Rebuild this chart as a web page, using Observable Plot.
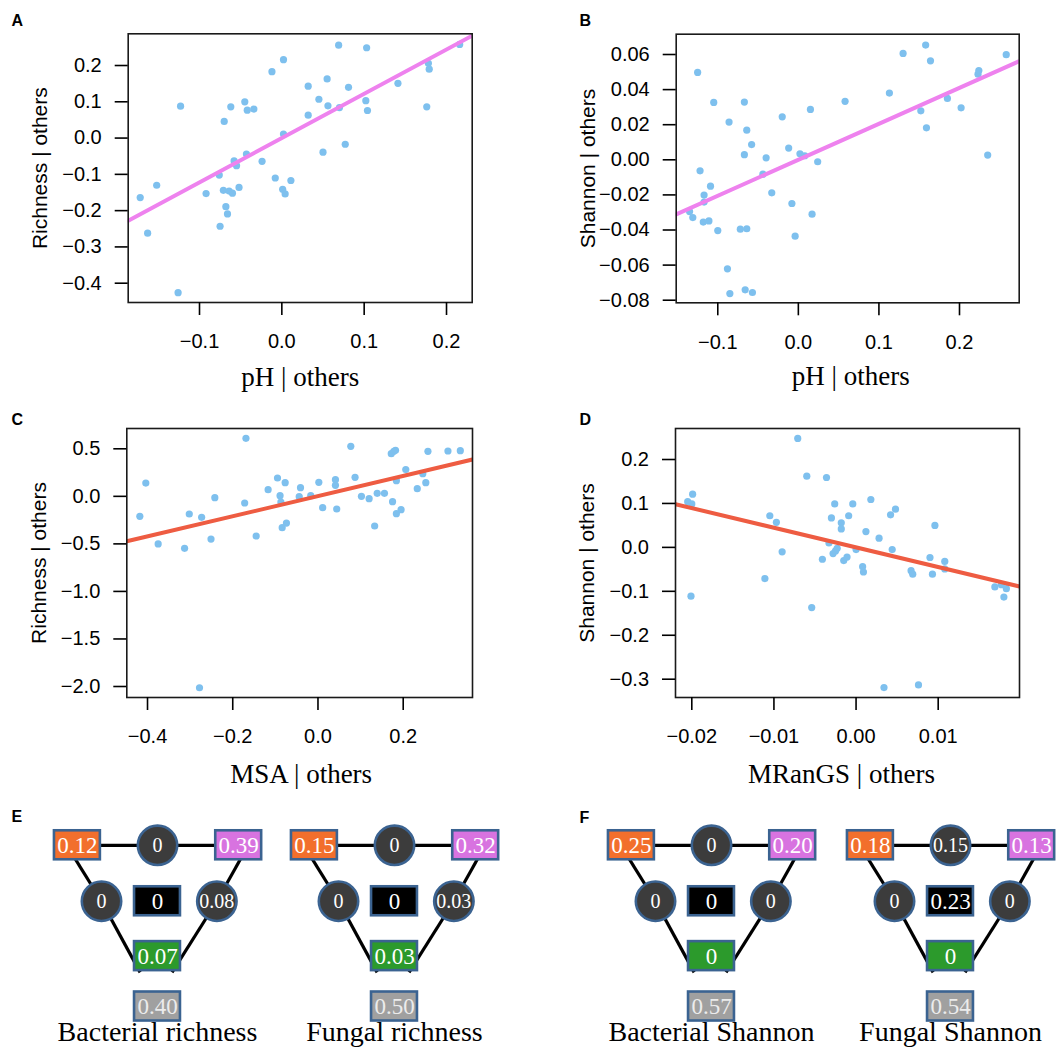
<!DOCTYPE html>
<html><head><meta charset="utf-8">
<script src="https://cdn.jsdelivr.net/npm/d3@7"></script>
<script src="https://cdn.jsdelivr.net/npm/@observablehq/plot@0.6"></script>
<style>
html,body{margin:0;padding:0;background:#fff;}
#root{position:relative;width:1056px;height:1048px;overflow:hidden;background:#fff;}
.panel{position:absolute;}
.panel svg{max-width:none !important;}
.letter{position:absolute;font:bold 16px 'Liberation Sans',Arial,sans-serif;line-height:16px;color:#000;}
</style></head><body><div id="root"></div>
<script>
// ---------- Panel A: Richness | others vs pH | others ----------
const aX = [-0.172,-0.163,-0.152,-0.126,-0.123,-0.092,-0.076,-0.075,-0.071,-0.070,-0.068,-0.066,-0.064,-0.062,-0.060,-0.058,-0.055,-0.052,-0.045,-0.043,-0.042,-0.034,-0.024,-0.012,-0.008,0.001,0.002,0.002,0.004,0.011,0.032,0.032,0.045,0.050,0.055,0.056,0.069,0.070,0.077,0.081,0.102,0.103,0.104,0.141,0.176,0.178,0.179,0.216];
const aY = [-0.164,-0.262,-0.130,-0.426,0.088,-0.153,-0.102,-0.243,-0.144,0.046,-0.189,-0.209,-0.146,0.086,-0.152,-0.063,-0.076,-0.136,0.100,-0.044,0.077,0.080,-0.064,0.183,-0.110,-0.141,0.011,0.216,-0.154,-0.117,0.063,0.143,0.107,-0.039,0.163,0.089,0.256,0.084,-0.017,0.140,0.103,0.249,0.076,0.151,0.086,0.206,0.190,0.258];
const aFit = {slope: 1.22, intercept: 0.0};
// ---------- Panel B: Shannon | others vs pH | others ----------
const bX = [-0.135,-0.131,-0.125,-0.122,-0.118,-0.117,-0.117,-0.111,-0.109,-0.105,-0.100,-0.088,-0.086,-0.085,-0.072,-0.067,-0.067,-0.066,-0.064,-0.064,-0.058,-0.057,-0.044,-0.040,-0.033,-0.020,-0.012,-0.008,-0.004,0.002,0.008,0.015,0.017,0.024,0.058,0.113,0.130,0.152,0.158,0.159,0.164,0.185,0.202,0.223,0.224,0.235,0.258];
const bY = [-0.0295,-0.0329,0.0498,-0.0063,-0.0355,-0.0201,-0.0241,-0.0348,-0.0150,0.0327,-0.0403,-0.0621,0.0215,-0.0762,-0.0395,0.0329,0.0029,-0.0741,0.0169,-0.0393,0.0087,-0.0756,-0.0082,0.0011,-0.0188,0.0245,0.0067,-0.0249,-0.0435,0.0034,0.0023,0.0287,-0.0310,-0.0011,0.0333,0.0380,0.0606,0.0279,0.0654,0.0182,0.0564,0.0350,0.0296,0.0488,0.0509,0.0027,0.0599];
const bFit = {slope: 0.205, intercept: 0.0};
// ---------- Panel C: Richness | others vs MSA | others ----------
const cX = [-0.418,-0.404,-0.375,-0.313,-0.302,-0.278,-0.273,-0.251,-0.242,-0.172,-0.169,-0.145,-0.117,-0.095,-0.089,-0.087,-0.084,-0.077,-0.074,-0.044,-0.041,-0.017,0.002,0.011,0.041,0.041,0.044,0.077,0.087,0.102,0.120,0.133,0.139,0.156,0.172,0.175,0.178,0.182,0.184,0.184,0.195,0.206,0.233,0.246,0.253,0.258,0.305,0.334];
const cY = [-0.210,0.140,-0.501,-0.547,-0.186,-2.013,-0.221,-0.449,-0.014,-0.070,0.610,-0.417,0.070,0.193,0.007,-0.060,-0.330,0.144,-0.281,-0.004,0.091,0.007,0.147,-0.119,0.175,0.116,-0.133,0.526,0.200,0.000,-0.025,-0.312,0.032,0.032,0.449,-0.056,0.473,0.484,0.165,-0.182,-0.140,0.281,0.081,0.238,0.144,0.473,0.477,0.480];
const cFit = {slope: 1.06, intercept: 0.003};
// ---------- Panel D: Shannon | others vs MRanGS | others ----------
const dX = [-0.0205,-0.0201,-0.0200,-0.0199,-0.0111,-0.0105,-0.0097,-0.0090,-0.0071,-0.0060,-0.0054,-0.0041,-0.0036,-0.0033,-0.0030,-0.0028,-0.0026,-0.0025,-0.0023,-0.0018,-0.0018,-0.0015,-0.0011,-0.0009,-0.0004,0.0000,0.0008,0.0009,0.0012,0.0018,0.0028,0.0034,0.0042,0.0044,0.0048,0.0067,0.0069,0.0076,0.0090,0.0093,0.0096,0.0108,0.0108,0.0169,0.0177,0.0180,0.0183];
const dY = [0.104,-0.111,0.099,0.121,-0.071,0.072,0.057,-0.010,0.248,0.162,-0.137,-0.027,0.159,0.010,0.067,-0.014,0.099,-0.008,-0.002,0.056,0.042,-0.030,-0.022,0.072,0.099,-0.005,-0.044,-0.056,0.036,0.109,0.021,-0.319,0.074,-0.005,0.087,-0.053,-0.061,-0.313,-0.023,-0.061,0.050,-0.032,-0.049,-0.090,-0.085,-0.113,-0.094];
const dFit = {slope: -4.47, intercept: 0.0};

// ---------- tick values and labels ----------
const pHTicks = [-0.1, 0, 0.1, 0.2];
const pHLabels = ["\u22120.1", "0.0", "0.1", "0.2"];
const aYTicks = [-0.4, -0.3, -0.2, -0.1, 0, 0.1, 0.2];
const aYLabels = ["\u22120.4", "\u22120.3", "\u22120.2", "\u22120.1", "0.0", "0.1", "0.2"];
const bYTicks = [-0.08, -0.06, -0.04, -0.02, 0, 0.02, 0.04, 0.06];
const bYLabels = ["\u22120.08", "\u22120.06", "\u22120.04", "\u22120.02", "0.00", "0.02", "0.04", "0.06"];
const cXTicks = [-0.4, -0.2, 0, 0.2];
const cXLabels = ["\u22120.4", "\u22120.2", "0.0", "0.2"];
const cYTicks = [-2, -1.5, -1, -0.5, 0, 0.5];
const cYLabels = ["\u22122.0", "\u22121.5", "\u22121.0", "\u22120.5", "0.0", "0.5"];
const dXTicks = [-0.02, -0.01, 0, 0.01];
const dXLabels = ["\u22120.02", "\u22120.01", "0.00", "0.01"];
const dYTicks = [-0.3, -0.2, -0.1, 0, 0.1, 0.2];
const dYLabels = ["\u22120.3", "\u22120.2", "\u22120.1", "0.0", "0.1", "0.2"];

// ---------- variation partitioning diagrams ----------
const diagramTitles = ["Bacterial richness", "Fungal richness", "Bacterial Shannon", "Fungal Shannon"];
// node order: orange, top circle, purple, left circle, centre (black), right circle, green, residual (grey)
const bacterialRichness = [0.12, 0, 0.39, 0, 0, 0.08, 0.07, 0.40];
const fungalRichness    = [0.15, 0, 0.32, 0, 0, 0.03, 0.03, 0.50];
const bacterialShannon  = [0.25, 0, 0.20, 0, 0, 0, 0, 0.57];
const fungalShannon     = [0.18, 0.15, 0.13, 0, 0.23, 0, 0, 0.54];

// ---------- styles / layout ----------
const POINT = "#7EC0EE";
const VIOLET = "#EE82EE";
const TOMATO = "#EE5C42";
const SANS = "'Liberation Sans', Arial, Helvetica, sans-serif";
const SERIF = "'Liberation Serif', 'Times New Roman', Times, serif";
const root = document.getElementById("root");

function place(el, left, top, w, h) {
  const d = document.createElement("div");
  d.className = "panel";
  d.style.left = left + "px"; d.style.top = top + "px";
  d.style.width = w + "px"; d.style.height = h + "px";
  d.appendChild(el); root.appendChild(d);
}
function fmt(ticks, labels) {
  return d => labels[ticks.findIndex(t => Math.abs(t - d) < 1e-9)];
}

function scatter(c) {
  const data = c.xs.map((x, i) => ({x, y: c.ys[i]}));
  const fitLine = c.xDomain.map(x => ({x, y: c.fit.intercept + c.fit.slope * x}));
  return Plot.plot({
    width: 528, height: 400,
    marginLeft: c.m[0], marginRight: c.m[1], marginTop: c.m[2], marginBottom: c.m[3],
    x: {domain: c.xDomain}, y: {domain: c.yDomain},
    style: {fontFamily: SANS, fontSize: "20px", background: "transparent", color: "#000", overflow: "visible"},
    marks: [
      Plot.dot(data, {x: "x", y: "y", r: 3.6, fill: POINT}),
      Plot.line(fitLine, {x: "x", y: "y", stroke: c.lineColor, strokeWidth: 4, clip: true}),
      Plot.frame({stroke: "#1a1a1a", strokeWidth: 1.6}),
      Plot.axisX({ticks: c.xTicks, tickFormat: fmt(c.xTicks, c.xLabels), tickSize: 13, tickPadding: 18.5, strokeWidth: 1.6, label: null}),
      Plot.axisY({ticks: c.yTicks, tickFormat: fmt(c.yTicks, c.yLabels), tickSize: 13, tickPadding: 13.5, strokeWidth: 1.6, label: null}),
      Plot.text([c.xTitle], {frameAnchor: "bottom", dy: c.xTitleDy, dx: c.xTitleDx, text: d => d, fontFamily: SERIF, fontSize: 27, textAnchor: "middle", lineAnchor: "middle"}),
      Plot.text([c.yTitle], {frameAnchor: "left", dx: -88, rotate: -90, text: d => d, fontFamily: SANS, fontSize: 21, textAnchor: "middle", lineAnchor: "middle"})
    ]
  });
}

place(scatter({xs: aX, ys: aY, fit: aFit, lineColor: VIOLET, xDomain: [-0.1866, 0.2312], yDomain: [-0.4532, 0.2874],
  m: [127.7, 56.3, 33.3, 98], xTicks: pHTicks, xLabels: pHLabels, yTicks: aYTicks, yLabels: aYLabels,
  xTitle: "pH | others", yTitle: "Richness | others", xTitleDy: 74.5, xTitleDx: 0}), 0, 0, 528, 400);
place(scatter({xs: bX, ys: bY, fit: bFit, lineColor: VIOLET, xDomain: [-0.1516, 0.2741], yDomain: [-0.08148, 0.07157],
  m: [147.7, 37.3, 33.7, 97.7], xTicks: pHTicks, xLabels: pHLabels, yTicks: bYTicks, yLabels: bYLabels,
  xTitle: "pH | others", yTitle: "Shannon | others", xTitleDy: 74, xTitleDx: 3}), 528, 0, 528, 400);
place(scatter({xs: cX, ys: cY, fit: cFit, lineColor: TOMATO, xDomain: [-0.4486, 0.3626], yDomain: [-2.1157, 0.7135],
  m: [126.3, 56, 28, 103], xTicks: cXTicks, xLabels: cXLabels, yTicks: cYTicks, yLabels: cYLabels,
  xTitle: "MSA | others", yTitle: "Richness | others", xTitleDy: 77, xTitleDx: 1.5}), 0, 400, 528, 400);
place(scatter({xs: dX, ys: dY, fit: dFit, lineColor: TOMATO, xDomain: [-0.021985, 0.0199], yDomain: [-0.34166, 0.27057],
  m: [147, 37, 28, 103], xTicks: dXTicks, xLabels: dXLabels, yTicks: dYTicks, yLabels: dYLabels,
  xTitle: "MRanGS | others", yTitle: "Shannon | others", xTitleDy: 77, xTitleDx: -6}), 528, 400, 528, 400);

// diagram node layout in abstract grid units (1 unit = one node spacing)
const nodeLayout = [
  {role: "orange", shape: "rect",   gx: -1.43, gy: 0,    fill: "#F26F2C", text: "#fff"},
  {role: "top",    shape: "circle", gx: 0,     gy: 0,    fill: "#3C3C3C", text: "#fff"},
  {role: "purple", shape: "rect",   gx: 1.45,  gy: 0,    fill: "#D873E0", text: "#fff"},
  {role: "left",   shape: "circle", gx: -1.0,  gy: 1.0,  fill: "#3C3C3C", text: "#fff"},
  {role: "centre", shape: "rect",   gx: 0,     gy: 1.0,  fill: "#000000", text: "#fff"},
  {role: "right",  shape: "circle", gx: 1.06,  gy: 1.0,  fill: "#3C3C3C", text: "#fff"},
  {role: "green",  shape: "rect",   gx: 0,     gy: 1.98, fill: "#2C9A2C", text: "#fff"},
  {role: "grey",   shape: "rect",   gx: 0,     gy: 2.88, fill: "#A0A0A0", text: "#ececec"}
];
const edgeLayout = [
  {from: "orange", to: "purple"},
  {from: "orange", to: "left", fo: [-0.19, 0]},
  {from: "left", to: "green", to_: [-0.31, 0.29]},
  {from: "purple", to: "right", fo: [0.17, 0]},
  {from: "right", to: "green", to_: [0.26, 0.29]}
];
const BORDER = "#3B6391";
const HW = 0.41, HH = 0.259;

function diagram(values, title) {
  const nodes = nodeLayout.map((n, i) => ({...n, value: values[i], label: values[i] === 0 ? "0" : values[i].toFixed(2)}));
  const byRole = Object.fromEntries(nodes.map(n => [n.role, n]));
  const links = edgeLayout.map(e => {
    const a = byRole[e.from], b = byRole[e.to];
    const fo = e.fo || [0, 0], tt = e.to_ || [0, 0];
    return {x1: a.gx + fo[0], y1: a.gy + fo[1], x2: b.gx + tt[0], y2: b.gy + tt[1]};
  });
  const rects = nodes.filter(n => n.shape === "rect");
  const circles = nodes.filter(n => n.shape === "circle");
  return Plot.plot({
    width: 280, height: 248, margin: 0,
    x: {domain: [-2.5, 2.5], axis: null},
    y: {domain: [-0.8, 3.63], range: [0, 248], axis: null},
    color: {type: "identity"},
    style: {fontFamily: SERIF, background: "transparent", overflow: "visible"},
    marks: [
      Plot.link(links, {x1: "x1", y1: "y1", x2: "x2", y2: "y2", stroke: "#000", strokeWidth: 3.2}),
      Plot.rect(rects, {x1: d => d.gx - HW, x2: d => d.gx + HW, y1: d => d.gy - HH, y2: d => d.gy + HH, fill: "fill", stroke: BORDER, strokeWidth: 2.6}),
      Plot.dot(circles, {x: "gx", y: "gy", r: 19.7, fill: "fill", stroke: BORDER, strokeWidth: 2.6}),
      Plot.text(rects, {x: "gx", y: "gy", text: "label", fill: "text", fontSize: 23, fontFamily: SERIF, lineAnchor: "middle"}),
      Plot.text(circles, {x: "gx", y: "gy", text: "label", fill: "text", fontSize: 20, fontFamily: SERIF, lineAnchor: "middle"}),
      Plot.text([title], {frameAnchor: "bottom", dy: -16, text: d => d, fill: "#000", fontSize: 28, fontFamily: SERIF, textAnchor: "middle", lineAnchor: "middle"})
    ]
  });
}
const diagramCenters = [157, 394, 710.5, 949.5];
[bacterialRichness, fungalRichness, bacterialShannon, fungalShannon].forEach((v, i) => {
  place(diagram(v, diagramTitles[i]), diagramCenters[i] - 140, 800, 280, 248);
});

// panel letters
[["A", 11.5, 13], ["B", 579.5, 13], ["C", 11.5, 412], ["D", 579.5, 411.5], ["E", 11.5, 809], ["F", 579.5, 809.5]].forEach(([t, l, tp]) => {
  const d = document.createElement("div");
  d.className = "letter"; d.textContent = t;
  d.style.left = l + "px"; d.style.top = tp + "px";
  root.appendChild(d);
});
</script></body></html>
